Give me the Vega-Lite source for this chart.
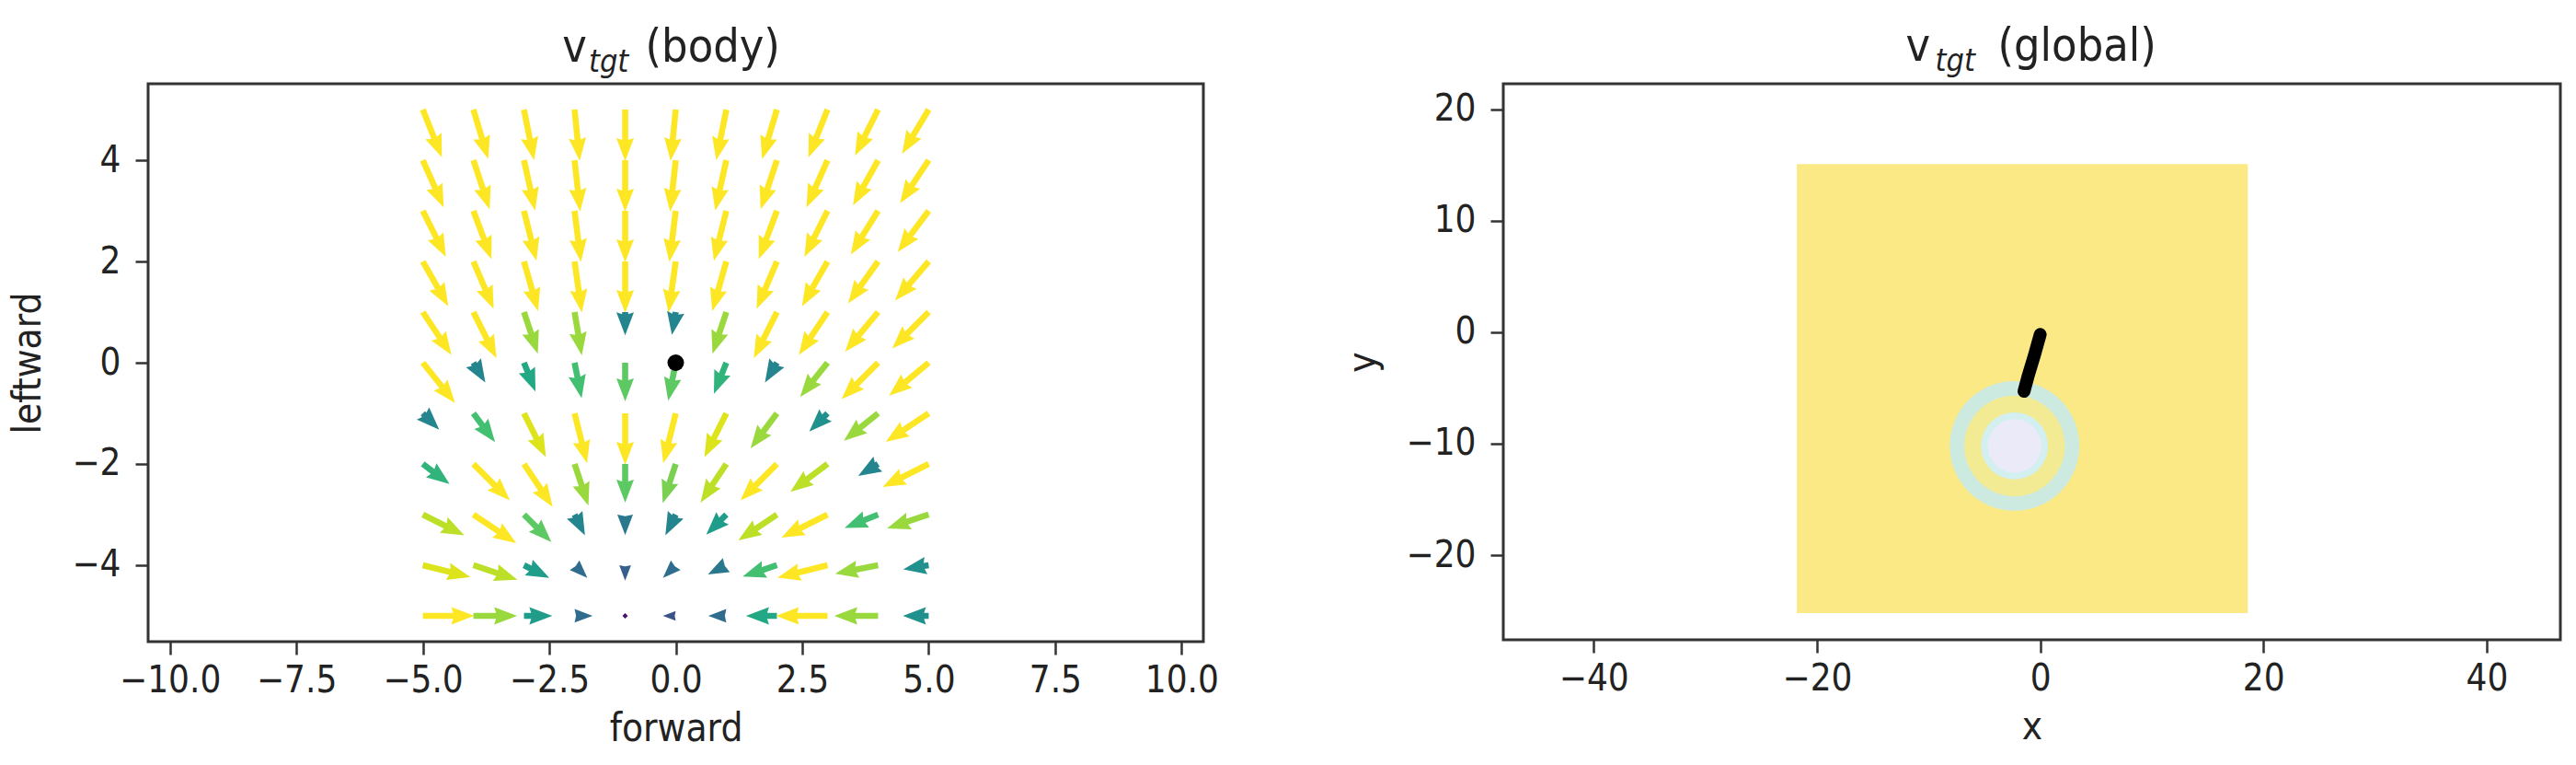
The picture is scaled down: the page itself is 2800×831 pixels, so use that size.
{
  "$schema": "https://vega.github.io/schema/vega-lite/v6.json",
  "background": "white",
  "autosize": {"type": "pad"},
  "padding": {"left": 8, "top": 24, "right": 0, "bottom": 0},
  "spacing": 326,
  "bounds": "flush",
  "config": {
    "view": {"stroke": "#333333", "strokeWidth": 3},
    "axis": {
      "domain": false, "grid": false, "ticks": true,
      "tickColor": "#333333", "tickWidth": 2.5, "tickSize": 14,
      "labelFont": "DejaVu Sans Condensed, DejaVu Sans", "labelFontSize": 40, "labelColor": "#222222",
      "titleFont": "DejaVu Sans Condensed, DejaVu Sans", "titleFontSize": 42, "titleFontWeight": "normal", "titleColor": "#222222"
    },
    "axisX": {"labelPadding": 8, "titlePadding": 12},
    "axisY": {"labelPadding": 16, "titlePadding": 25}
  },
  "hconcat": [
    {
      "width": 1147,
      "height": 606,
      "layer": [
        {
          "data": {"values": [
            {"x":-5,"y":5,"m":1,"a":158.2},{"x":-4,"y":5,"m":1,"a":163.3},{"x":-3,"y":5,"m":1,"a":168.7},{"x":-2,"y":5,"m":1,"a":174.3},{"x":-1,"y":5,"m":1,"a":180},{"x":0,"y":5,"m":1,"a":185.7},{"x":1,"y":5,"m":1,"a":191.3},{"x":2,"y":5,"m":1,"a":196.7},{"x":3,"y":5,"m":1,"a":201.8},{"x":4,"y":5,"m":1,"a":206.6},{"x":5,"y":5,"m":1,"a":211},
            {"x":-5,"y":4,"m":1,"a":156},{"x":-4,"y":4,"m":1,"a":161.6},{"x":-3,"y":4,"m":1,"a":167.5},{"x":-2,"y":4,"m":1,"a":173.7},{"x":-1,"y":4,"m":1,"a":180},{"x":0,"y":4,"m":1,"a":186.3},{"x":1,"y":4,"m":1,"a":192.5},{"x":2,"y":4,"m":1,"a":198.4},{"x":3,"y":4,"m":1,"a":204},{"x":4,"y":4,"m":1,"a":209.1},{"x":5,"y":4,"m":1,"a":213.7},
            {"x":-5,"y":3,"m":1,"a":153.4},{"x":-4,"y":3,"m":1,"a":159.4},{"x":-3,"y":3,"m":1,"a":166},{"x":-2,"y":3,"m":1,"a":172.9},{"x":-1,"y":3,"m":1,"a":180},{"x":0,"y":3,"m":1,"a":187.1},{"x":1,"y":3,"m":1,"a":194},{"x":2,"y":3,"m":1,"a":200.6},{"x":3,"y":3,"m":1,"a":206.6},{"x":4,"y":3,"m":1,"a":212},{"x":5,"y":3,"m":1,"a":216.9},
            {"x":-5,"y":2,"m":1,"a":150.3},{"x":-4,"y":2,"m":1,"a":156.8},{"x":-3,"y":2,"m":1,"a":164.1},{"x":-2,"y":2,"m":1,"a":171.9},{"x":-1,"y":2,"m":1,"a":180},{"x":0,"y":2,"m":1,"a":188.1},{"x":1,"y":2,"m":1,"a":195.9},{"x":2,"y":2,"m":1,"a":203.2},{"x":3,"y":2,"m":1,"a":209.7},{"x":4,"y":2,"m":1,"a":215.5},{"x":5,"y":2,"m":1,"a":220.6},
            {"x":-5,"y":1,"m":1,"a":146.3},{"x":-4,"y":1,"m":1,"a":153.4},{"x":-3,"y":1,"m":0.85,"a":161.6},{"x":-2,"y":1,"m":0.85,"a":170.5},{"x":-1,"y":1,"m":0.45,"a":180},{"x":0,"y":1,"m":0.45,"a":189.5},{"x":1,"y":1,"m":0.85,"a":198.4},{"x":2,"y":1,"m":1,"a":206.6},{"x":3,"y":1,"m":1,"a":213.7},{"x":4,"y":1,"m":1,"a":219.8},{"x":5,"y":1,"m":1,"a":225},
            {"x":-5,"y":0,"m":1,"a":141.3},{"x":-4,"y":0,"m":0.45,"a":149},{"x":-3,"y":0,"m":0.6,"a":158.2},{"x":-2,"y":0,"m":0.7,"a":168.7},{"x":-1,"y":0,"m":0.75,"a":180},{"x":0,"y":0,"m":0.75,"a":191.3},{"x":1,"y":0,"m":0.65,"a":201.8},{"x":2,"y":0,"m":0.45,"a":211},{"x":3,"y":0,"m":0.85,"a":218.7},{"x":4,"y":0,"m":1,"a":225},{"x":5,"y":0,"m":1,"a":230.2},
            {"x":-5,"y":-1,"m":0.45,"a":135},{"x":-4,"y":-1,"m":0.7,"a":143.1},{"x":-3,"y":-1,"m":0.95,"a":153.4},{"x":-2,"y":-1,"m":1,"a":166},{"x":-1,"y":-1,"m":1,"a":180},{"x":0,"y":-1,"m":1,"a":194},{"x":1,"y":-1,"m":0.95,"a":206.6},{"x":2,"y":-1,"m":0.85,"a":216.9},{"x":3,"y":-1,"m":0.5,"a":225},{"x":4,"y":-1,"m":0.85,"a":231.3},{"x":5,"y":-1,"m":1,"a":236.3},
            {"x":-5,"y":-2,"m":0.65,"a":126.9},{"x":-4,"y":-2,"m":1,"a":135},{"x":-3,"y":-2,"m":1,"a":146.3},{"x":-2,"y":-2,"m":0.85,"a":161.6},{"x":-1,"y":-2,"m":0.75,"a":180},{"x":0,"y":-2,"m":0.8,"a":198.4},{"x":1,"y":-2,"m":0.9,"a":213.7},{"x":2,"y":-2,"m":1,"a":225},{"x":3,"y":-2,"m":0.9,"a":233.1},{"x":4,"y":-2,"m":0.45,"a":239},{"x":5,"y":-2,"m":1,"a":243.4},
            {"x":-5,"y":-3,"m":0.9,"a":116.6},{"x":-4,"y":-3,"m":1,"a":123.7},{"x":-3,"y":-3,"m":0.75,"a":135},{"x":-2,"y":-3,"m":0.45,"a":153.4},{"x":-1,"y":-3,"m":0.4,"a":180},{"x":0,"y":-3,"m":0.45,"a":206.6},{"x":1,"y":-3,"m":0.55,"a":225},{"x":2,"y":-3,"m":0.9,"a":236.3},{"x":3,"y":-3,"m":1,"a":243.4},{"x":4,"y":-3,"m":0.7,"a":248.2},{"x":5,"y":-3,"m":0.85,"a":251.6},
            {"x":-5,"y":-4,"m":0.95,"a":104},{"x":-4,"y":-4,"m":0.9,"a":108.4},{"x":-3,"y":-4,"m":0.55,"a":116.6},{"x":-2,"y":-4,"m":0.35,"a":135},{"x":-1,"y":-4,"m":0.3,"a":180},{"x":0,"y":-4,"m":0.35,"a":225},{"x":1,"y":-4,"m":0.4,"a":243.4},{"x":2,"y":-4,"m":0.7,"a":251.6},{"x":3,"y":-4,"m":1,"a":256},{"x":4,"y":-4,"m":0.85,"a":258.7},{"x":5,"y":-4,"m":0.5,"a":260.5},
            {"x":-5,"y":-5,"m":1,"a":90},{"x":-4,"y":-5,"m":0.85,"a":90},{"x":-3,"y":-5,"m":0.55,"a":90},{"x":-2,"y":-5,"m":0.35,"a":90},{"x":-1,"y":-5,"m":0.05,"a":0},{"x":0,"y":-5,"m":0.25,"a":270},{"x":1,"y":-5,"m":0.35,"a":270},{"x":2,"y":-5,"m":0.6,"a":270},{"x":3,"y":-5,"m":1,"a":270},{"x":4,"y":-5,"m":0.85,"a":270},{"x":5,"y":-5,"m":0.5,"a":270}
          ]},
          "mark": {"type": "point", "filled": true, "size": 400, "opacity": 1, "strokeWidth": 0},
          "encoding": {
            "x": {"field": "x", "type": "quantitative", "scale": {"domain": [-10.43, 10.43], "nice": false, "zero": false},
                  "axis": {"values": [-10, -7.5, -5, -2.5, 0, 2.5, 5, 7.5, 10], "format": ".1f", "title": "forward"}},
            "y": {"field": "y", "type": "quantitative", "scale": {"domain": [-5.51, 5.51], "nice": false, "zero": false},
                  "axis": {"values": [-4, -2, 0, 2, 4], "format": "d", "title": "leftward"}},
            "color": {"field": "m", "type": "quantitative", "scale": {"scheme": "viridis", "domain": [0, 1]}, "legend": null},
            "shape": {"field": "m", "type": "ordinal", "legend": null, "scale": {
              "domain": [0.05, 0.25, 0.3, 0.35, 0.4, 0.45, 0.5, 0.55, 0.6, 0.65, 0.7, 0.75, 0.8, 0.85, 0.9, 0.95, 1],
              "range": [
                "M-0.3,0L0,-0.3L0.3,0L0,0.3Z",
                "M-0.53,0L0,-1.4L0.53,0L0,-0.11Z",
                "M-0.64,0L0,-1.68L0.64,0L0,-0.13Z",
                "M-0.74,0L0,-1.96L0.74,0L0,-0.16Z",
                "M-0.85,0L0,-2.24L0.85,0L0,-0.18Z",
                "M-0.33,0L-0.33,-0.22L-0.95,-0.02L0,-2.52L0.95,-0.02L0.33,-0.22L0.33,0Z",
                "M-0.33,0L-0.33,-0.5L-0.95,-0.3L0,-2.8L0.95,-0.3L0.33,-0.5L0.33,0Z",
                "M-0.33,0L-0.33,-0.78L-0.95,-0.58L0,-3.08L0.95,-0.58L0.33,-0.78L0.33,0Z",
                "M-0.33,0L-0.33,-1.06L-0.95,-0.86L0,-3.36L0.95,-0.86L0.33,-1.06L0.33,0Z",
                "M-0.33,0L-0.33,-1.34L-0.95,-1.14L0,-3.64L0.95,-1.14L0.33,-1.34L0.33,0Z",
                "M-0.33,0L-0.33,-1.62L-0.95,-1.42L0,-3.92L0.95,-1.42L0.33,-1.62L0.33,0Z",
                "M-0.33,0L-0.33,-1.9L-0.95,-1.7L0,-4.2L0.95,-1.7L0.33,-1.9L0.33,0Z",
                "M-0.33,0L-0.33,-2.18L-0.95,-1.98L0,-4.48L0.95,-1.98L0.33,-2.18L0.33,0Z",
                "M-0.33,0L-0.33,-2.46L-0.95,-2.26L0,-4.76L0.95,-2.26L0.33,-2.46L0.33,0Z",
                "M-0.33,0L-0.33,-2.74L-0.95,-2.54L0,-5.04L0.95,-2.54L0.33,-2.74L0.33,0Z",
                "M-0.33,0L-0.33,-3.02L-0.95,-2.82L0,-5.32L0.95,-2.82L0.33,-3.02L0.33,0Z",
                "M-0.33,0L-0.33,-3.3L-0.95,-3.1L0,-5.6L0.95,-3.1L0.33,-3.3L0.33,0Z"
              ]}},
            "angle": {"field": "a", "type": "quantitative", "scale": null}
          }
        },
        {
          "data": {"values": [{"x": 0, "y": 0}]},
          "mark": {"type": "point", "shape": "circle", "filled": true, "size": 324, "color": "black", "opacity": 1, "strokeWidth": 0},
          "encoding": {"x": {"field": "x", "type": "quantitative"}, "y": {"field": "y", "type": "quantitative"}}
        },
        {
          "data": {"values": [{"label": "v"}]},
          "mark": {"type": "text", "align": "left", "baseline": "alphabetic", "font": "DejaVu Sans Condensed, DejaVu Sans", "fontSize": 50, "color": "#222222"},
          "encoding": {"text": {"field": "label"}, "x": {"datum": -2.24, "type": "quantitative"}, "y": {"datum": 5.95, "type": "quantitative"}}
        },
        {
          "data": {"values": [{"label": "tgt"}]},
          "mark": {"type": "text", "align": "left", "baseline": "alphabetic", "font": "DejaVu Sans Condensed, DejaVu Sans", "fontStyle": "italic", "fontSize": 34, "color": "#222222"},
          "encoding": {"text": {"field": "label"}, "x": {"datum": -1.72, "type": "quantitative"}, "y": {"datum": 5.75, "type": "quantitative"}}
        },
        {
          "data": {"values": [{"label": "(body)"}]},
          "mark": {"type": "text", "align": "left", "baseline": "alphabetic", "font": "DejaVu Sans Condensed, DejaVu Sans", "fontSize": 50, "color": "#222222"},
          "encoding": {"text": {"field": "label"}, "x": {"datum": -0.6, "type": "quantitative"}, "y": {"datum": 5.95, "type": "quantitative"}}
        }
      ]
    },
    {
      "width": 1149,
      "height": 604,
      "layer": [
        {
          "data": {"values": [{"x": -21.8, "x2": 18.6, "y": -25.2, "y2": 15.1}]},
          "mark": {"type": "rect", "color": "#fbe985"},
          "encoding": {
            "x": {"field": "x", "type": "quantitative", "scale": {"domain": [-48.1, 46.6], "nice": false, "zero": false},
                  "axis": {"values": [-40, -20, 0, 20, 40], "format": "d", "title": "x"}},
            "y": {"field": "y", "type": "quantitative", "scale": {"domain": [-27.6, 22.3], "nice": false, "zero": false},
                  "axis": {"values": [-20, -10, 0, 10, 20], "format": "d", "title": "y"}},
            "x2": {"field": "x2"}, "y2": {"field": "y2"}
          }
        },
        {
          "data": {"values": [
            {"x": -2.3, "y": -10.2, "r": 5.8, "band": "outer"},
            {"x": -2.3, "y": -10.2, "r": 4.5, "band": "mid"},
            {"x": -2.3, "y": -10.2, "r": 3.0, "band": "inner"},
            {"x": -2.3, "y": -10.2, "r": 2.4, "band": "core"}
          ]},
          "mark": {"type": "point", "shape": "circle", "filled": true, "opacity": 1, "strokeWidth": 0},
          "encoding": {
            "x": {"field": "x", "type": "quantitative"},
            "y": {"field": "y", "type": "quantitative"},
            "size": {"field": "r", "type": "quantitative", "scale": {"type": "pow", "exponent": 2, "domain": [0, 10], "range": [0, 59049]}, "legend": null},
            "color": {"field": "band", "type": "nominal", "scale": {"domain": ["outer", "mid", "inner", "core"], "range": ["#cdeae0", "#f2eb94", "#d3eff0", "#eaeaf8"]}, "legend": null},
            "order": {"field": "r", "sort": "descending"}
          }
        },
        {
          "data": {"values": [
            {"t": 0, "x": 0.0, "y": -0.2},
            {"t": 1, "x": -0.5, "y": -2.0},
            {"t": 2, "x": -1.1, "y": -4.0},
            {"t": 3, "x": -1.45, "y": -5.3}
          ]},
          "mark": {"type": "line", "color": "black", "strokeWidth": 14, "strokeCap": "round", "strokeJoin": "round"},
          "encoding": {"x": {"field": "x", "type": "quantitative"}, "y": {"field": "y", "type": "quantitative"}, "order": {"field": "t"}}
        },
        {
          "data": {"values": [{"label": "v"}]},
          "mark": {"type": "text", "align": "left", "baseline": "alphabetic", "font": "DejaVu Sans Condensed, DejaVu Sans", "fontSize": 50, "color": "#222222"},
          "encoding": {"text": {"field": "label"}, "x": {"datum": -12.04, "type": "quantitative"}, "y": {"datum": 24.37, "type": "quantitative"}}
        },
        {
          "data": {"values": [{"label": "tgt"}]},
          "mark": {"type": "text", "align": "left", "baseline": "alphabetic", "font": "DejaVu Sans Condensed, DejaVu Sans", "fontStyle": "italic", "fontSize": 34, "color": "#222222"},
          "encoding": {"text": {"field": "label"}, "x": {"datum": -9.4, "type": "quantitative"}, "y": {"datum": 23.46, "type": "quantitative"}}
        },
        {
          "data": {"values": [{"label": "(global)"}]},
          "mark": {"type": "text", "align": "left", "baseline": "alphabetic", "font": "DejaVu Sans Condensed, DejaVu Sans", "fontSize": 50, "color": "#222222"},
          "encoding": {"text": {"field": "label"}, "x": {"datum": -3.8, "type": "quantitative"}, "y": {"datum": 24.37, "type": "quantitative"}}
        }
      ]
    }
  ]
}
